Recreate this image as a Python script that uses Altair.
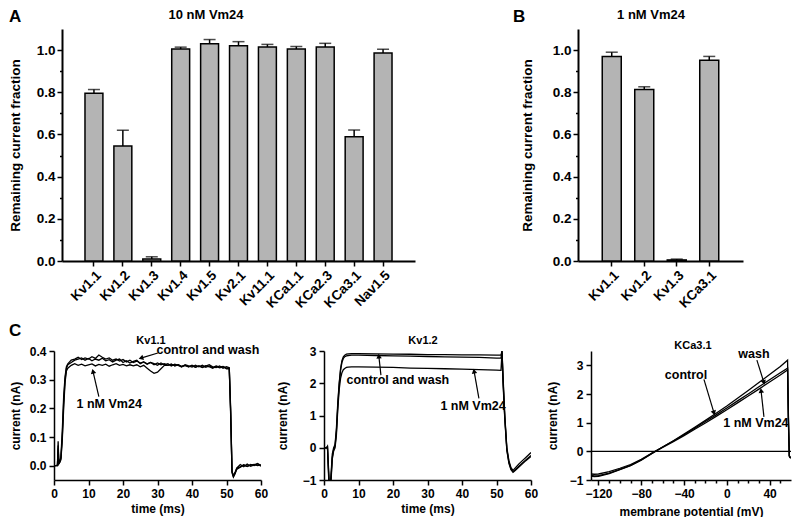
import altair as alt
import pandas as pd

FONT = "Liberation Sans"

# ---------------- Panel A : 10 nM Vm24 ----------------
a_channels = ["Kv1.1", "Kv1.2", "Kv1.3", "Kv1.4", "Kv1.5", "Kv2.1", "Kv11.1",
              "KCa1.1", "KCa2.3", "KCa3.1", "Nav1.5"]
a_mean = [0.795, 0.545, 0.010, 1.005, 1.030, 1.020, 1.015, 1.005, 1.015, 0.589, 0.986]
a_sem = [0.018, 0.075, 0.010, 0.009, 0.020, 0.020, 0.012, 0.012, 0.017, 0.032, 0.018]

# ---------------- Panel B : 1 nM Vm24 ----------------
b_channels = ["Kv1.1", "Kv1.2", "Kv1.3", "KCa3.1"]
b_mean = [0.970, 0.813, 0.005, 0.952]
b_sem = [0.020, 0.013, 0.004, 0.018]

frac_ticks = [0.0, 0.1, 0.2, 0.3, 0.4, 0.5, 0.6, 0.7, 0.8, 0.9, 1.0]

# ---------------- Panel C1 : Kv1.1 current traces ----------------
c1_time = [0, 0.5, 1.0, 1.2, 1.4, 1.6, 2.0, 2.4, 2.8, 3.2, 3.6, 4,
           5, 6, 7, 8, 9, 10, 11, 12, 13, 14, 15, 16, 17, 18, 19, 20, 21, 22, 23, 24, 25,
           26, 27, 28, 29, 30, 31, 32, 33, 34, 35, 36, 37, 38, 39, 40, 41, 42, 43, 44, 45,
           46, 47, 48, 49, 50,
           50.8, 51.2, 51.6, 52, 52.5, 53,
           54, 55, 56, 57, 58, 59, 60]
c1_control = [0, 0, 0.002, 0.085, 0.01, 0.012, 0.03, 0.12, 0.24, 0.31, 0.345, 0.355,
              0.368, 0.372, 0.378, 0.37, 0.376, 0.372, 0.38, 0.374, 0.386, 0.378, 0.372, 0.376,
              0.368, 0.372, 0.365, 0.37, 0.362, 0.368, 0.36, 0.365, 0.358, 0.362, 0.355, 0.36,
              0.352, 0.358, 0.352, 0.356, 0.35, 0.354, 0.348, 0.352, 0.346, 0.35, 0.345, 0.35,
              0.344, 0.348, 0.342, 0.347, 0.352, 0.345, 0.342, 0.348, 0.34, 0.345,
              0.342, 0.2, -0.02, -0.038, -0.025, -0.012,
              -0.005, 0.002, -0.003, 0.004, 0.0, 0.006, -0.002]
c1_wash = [0, 0, 0.0, 0.06, 0.008, 0.01, 0.025, 0.1, 0.22, 0.3, 0.34, 0.352,
           0.36, 0.368, 0.372, 0.376, 0.368, 0.374, 0.366, 0.372, 0.368, 0.375, 0.366, 0.37,
           0.362, 0.368, 0.372, 0.36, 0.366, 0.358, 0.364, 0.368, 0.356, 0.362, 0.354, 0.36,
           0.356, 0.35, 0.358, 0.352, 0.356, 0.348, 0.354, 0.35, 0.344, 0.352, 0.348, 0.344,
           0.35, 0.345, 0.35, 0.343, 0.348, 0.342, 0.348, 0.344, 0.346, 0.338,
           0.338, 0.19, -0.025, -0.04, -0.028, -0.01,
           -0.004, 0.003, -0.002, 0.002, 0.004, 0.0, 0.003]
c1_vm24 = [0, 0, 0.0, 0.07, 0.006, 0.01, 0.02, 0.09, 0.2, 0.29, 0.33, 0.34,
           0.35, 0.356, 0.35, 0.354, 0.348, 0.352, 0.355, 0.348, 0.353, 0.35, 0.354, 0.347,
           0.352, 0.356, 0.35, 0.353, 0.348, 0.352, 0.348, 0.352, 0.345, 0.35, 0.34, 0.33,
           0.322, 0.326, 0.338, 0.35, 0.35, 0.354, 0.348, 0.352, 0.346, 0.35, 0.345, 0.349,
           0.343, 0.348, 0.344, 0.349, 0.345, 0.34, 0.346, 0.341, 0.345, 0.34,
           0.34, 0.18, -0.02, -0.035, -0.022, -0.008,
           0.004, -0.004, 0.006, -0.002, 0.003, 0.008, 0.001]

# ---------------- Panel C2 : Kv1.2 current traces ----------------
c2_time = [0, 0.8, 1.0, 1.3, 1.6, 2.0, 2.4, 2.8,
           3.2, 3.6, 4.0, 4.4, 4.8, 5.2, 5.6, 6, 6.5, 7, 8, 10,
           15, 20, 25, 30, 35, 40, 45, 50,
           51.3, 51.6, 51.9, 52.4, 53, 53.6, 54.2, 54.8, 55.5, 56.5, 57.5, 58.5, 60]
c2_control = [0, 0, 0.05, -0.7, -1.4, -0.9, -0.2, 0.0,
              0.1, 0.6, 1.4, 2.0, 2.45, 2.7, 2.82, 2.87, 2.9, 2.91, 2.92, 2.92,
              2.91, 2.9, 2.9, 2.89, 2.89, 2.88, 2.88, 2.87,
              2.87, 3.0, 2.2, 1.0, 0.0, -0.4, -0.62, -0.7, -0.62, -0.5, -0.4, -0.3, -0.15]
c2_wash = [0, 0, 0.03, -0.6, -1.3, -1.0, -0.3, -0.05,
           0.05, 0.5, 1.3, 1.95, 2.4, 2.65, 2.77, 2.82, 2.85, 2.86, 2.87, 2.87,
           2.86, 2.85, 2.84, 2.83, 2.82, 2.81, 2.8, 2.78,
           2.78, 3.0, 2.1, 0.95, -0.05, -0.45, -0.66, -0.74, -0.68, -0.57, -0.47, -0.38, -0.24]
c2_vm24 = [0, 0, 0.04, -0.8, -1.5, -1.1, -0.35, -0.1,
           0.0, 0.4, 1.2, 1.8, 2.15, 2.33, 2.42, 2.46, 2.49, 2.5, 2.51, 2.51,
           2.5, 2.49, 2.47, 2.46, 2.45, 2.44, 2.42, 2.41,
           2.4, 2.95, 2.0, 0.9, -0.08, -0.48, -0.68, -0.76, -0.7, -0.6, -0.5, -0.4, -0.27]

# ---------------- Panel C3 : KCa3.1 ramp currents ----------------
c3_mv = [-127, -124, -120, -110, -100, -90, -80, -70, -60, -50, -40, -30, -20, -10,
         0, 10, 20, 30, 40, 50, 56.8, 57.6, 58.4, 59.2, 60]
c3_control = [-0.86, -0.88, -0.87, -0.78, -0.64, -0.5, -0.31, -0.07, 0.15, 0.37, 0.6, 0.84,
              1.08, 1.33, 1.58, 1.85, 2.12, 2.4, 2.68, 2.96, 3.18, 1.2, -0.15, -0.21, -0.22]
c3_wash = [-0.84, -0.86, -0.85, -0.76, -0.63, -0.49, -0.3, -0.07, 0.15, 0.36, 0.58, 0.81,
           1.04, 1.27, 1.51, 1.76, 2.0, 2.25, 2.5, 2.74, 2.9, 1.1, -0.16, -0.21, -0.22]
c3_vm24 = [-0.79, -0.8, -0.79, -0.71, -0.59, -0.46, -0.28, -0.06, 0.14, 0.34, 0.55, 0.77,
           0.99, 1.22, 1.45, 1.69, 1.93, 2.17, 2.42, 2.66, 2.84, 1.0, -0.17, -0.22, -0.23]

# ---------------- annotations (data coordinates) ----------------
c1_ann_text = ["control and wash", "1 nM Vm24"]
c1_ann_x = [44.6, 16.0]
c1_ann_y = [0.403, 0.216]
c1_arrow_x = [30.1, 13.0]
c1_arrow_y = [0.393, 0.241]
c1_tip_x = [25.2, 11.3]
c1_tip_y = [0.375, 0.329]
c1_tip_angle = [253.6, 346.5]

c2_ann_text = ["control and wash", "1 nM Vm24"]
c2_ann_x = [21.4, 43.2]
c2_ann_y = [2.09, 1.31]
c2_arrow_x = [16.5, 44.9]
c2_arrow_y = [2.25, 1.53]
c2_tip_x = [15.9, 43.5]
c2_tip_y = [2.84, 2.375]
c2_tip_angle = [354, 349.5]

c3_ann_text = ["control", "wash", "1 nM Vm24"]
c3_ann_x = [-38.2, 25.3, 27.2]
c3_ann_y = [2.65, 3.39, 0.98]
c3_arrow_x = [-21.4, 28.1, 34.7]
c3_arrow_y = [2.51, 3.18, 1.2]
c3_tip_x = [-12.0, 34.7, 32.0]
c3_tip_y = [1.34, 2.40, 2.12]
c3_tip_angle = [163, 162, 353.6]


# ======================================================================
def label_text(label, dx, dy, size, align="center", baseline="middle"):
    return alt.Chart(pd.DataFrame({"label": [label]})).mark_text(
        font=FONT, fontSize=size, fontWeight="bold", align=align,
        baseline=baseline, color="black"
    ).encode(text="label:N", x=alt.value(dx), y=alt.value(dy))


def spacer(w, h=20):
    return alt.Chart(pd.DataFrame({"v": [0]})).mark_point(opacity=0).encode(
        x=alt.value(0), y=alt.value(0)).properties(width=w, height=h)


def bar_panel(channels, means, sems, width, height, pin, pout, letter, letter_dx,
              title, title_dx, title_pad):
    df = pd.DataFrame({"channel": channels, "mean": means, "sem": sems})
    df["top"] = df["mean"] + df["sem"]
    yscale = alt.Scale(domain=[0, 1.1], nice=False)
    xenc = alt.X("channel:N", sort=channels,
                 scale=alt.Scale(paddingInner=pin, paddingOuter=pout),
                 axis=alt.Axis(title=None, labelAngle=-45, labelFontSize=13.5,
                               tickSize=5, labelPadding=2, domainWidth=2,
                               labelOverlap=False))
    yaxis = alt.Axis(
        title="Remaining current fraction", values=frac_ticks,
        labelExpr="round(datum.value*10) % 2 == 0 ? format(datum.value, '.1f') : ''",
        tickSize={"condition": {"test": "round(datum.value*10) % 2 == 0", "value": 5},
                  "value": 2.5},
        labelFontSize=13.5, titleFontSize=13.5, labelPadding=2, titlePadding=title_pad,
        domainWidth=2, labelOverlap=False)
    base = alt.Chart(df)
    bars = base.mark_bar(color="#b4b4b4", stroke="black", strokeWidth=1.5).encode(
        x=xenc, y=alt.Y("mean:Q", scale=yscale, axis=yaxis))
    err = base.mark_rule(color="black", strokeWidth=1.5).encode(
        x=xenc, y=alt.Y("mean:Q", scale=yscale, axis=yaxis), y2="top:Q")
    cap = base.mark_tick(color="black", thickness=1.5, size=12, orient="horizontal").encode(
        x=xenc, y=alt.Y("top:Q", scale=yscale, axis=yaxis))
    return alt.layer(
        bars, err, cap,
        label_text(letter, letter_dx, -20, 17, "left", "top"),
        label_text(title, title_dx, -14, 13),
    ).properties(width=width, height=height)


def trace_panel(xs, traces, xscale, yscale, xaxis, yaxis, ann, title, title_dx, title_dy,
                width, height, letter=None, zero_line=False):
    rows = []
    for name, ys in traces.items():
        for x, y in zip(xs, ys):
            rows.append({"x": x, "y": y, "trace": name})
    df = pd.DataFrame(rows)
    xe = alt.X("x:Q", scale=xscale, axis=xaxis)
    ye = alt.Y("y:Q", scale=yscale, axis=yaxis)
    layers = []
    if zero_line:
        layers.append(alt.Chart(pd.DataFrame({"y": [0]})).mark_rule(
            color="black", strokeWidth=1.3).encode(y=ye))
    layers.append(alt.Chart(df).mark_line(color="black", strokeWidth=1.3, clip=True).encode(
        x=xe, y=ye, detail="trace:N"))
    text, tx, ty, ax, ay, px, py, ang = ann
    adf = pd.DataFrame({"label": text, "x": tx, "y": ty})
    layers.append(alt.Chart(adf).mark_text(font=FONT, fontSize=12.5, fontWeight="bold",
                                           color="black").encode(x=xe, y=ye, text="label:N"))
    rdf = pd.DataFrame({"x": ax, "y": ay, "xt": px, "yt": py, "ang": ang})
    layers.append(alt.Chart(rdf).mark_rule(color="black", strokeWidth=1.2).encode(
        x=xe, y=ye, x2="xt:Q", y2="yt:Q"))
    layers.append(alt.Chart(rdf).mark_point(shape="triangle-up", filled=True, size=30,
                                            color="black", opacity=1).encode(
        x=alt.X("xt:Q", scale=xscale, axis=xaxis), y=alt.Y("yt:Q", scale=yscale, axis=yaxis),
        angle=alt.Angle("ang:Q", scale=None)))
    layers.append(label_text(title, title_dx, title_dy, 11))
    if letter:
        layers.append(label_text(letter, -45, -28, 17, "left", "top"))
    return alt.layer(*layers).properties(width=width, height=height)


def c_axis(title, values, tp, fmt=None, label_expr=None, tick_size=5):
    kw = dict(title=title, values=values, tickSize=tick_size, labelFontSize=12,
              titleFontSize=12, labelPadding=3, titlePadding=tp, labelOverlap=False)
    if fmt:
        kw["format"] = fmt
    if label_expr:
        kw["labelExpr"] = label_expr
    return alt.Axis(**kw)


panel_a = bar_panel(a_channels, a_mean, a_sem, 353, 232, 0.38, 0.795, "A", -53,
                    "10 nM Vm24", 144, 14)
panel_b = bar_panel(b_channels, b_mean, b_sem, 165, 232, 0.415, 0.746, "B", -65,
                    "1 nM Vm24", 73, 18)

time_ticks = [0, 10, 20, 30, 40, 50, 60]
C_H = 129

panel_c1 = trace_panel(
    c1_time, {"control": c1_control, "wash": c1_wash, "vm24": c1_vm24},
    alt.Scale(domain=[0, 60], nice=False), alt.Scale(domain=[-0.05, 0.4], nice=False),
    c_axis("time (ms)", time_ticks, 4),
    c_axis("current (nA)", [0, 0.1, 0.2, 0.3, 0.4], 7, fmt=".1f"),
    (c1_ann_text, c1_ann_x, c1_ann_y, c1_arrow_x, c1_arrow_y, c1_tip_x, c1_tip_y, c1_tip_angle),
    "Kv1.1", 97, -10, 207, C_H, letter="C")

panel_c2 = trace_panel(
    c2_time, {"control": c2_control, "wash": c2_wash, "vm24": c2_vm24},
    alt.Scale(domain=[0, 60], nice=False), alt.Scale(domain=[-1, 3], nice=False),
    c_axis("time (ms)", time_ticks, 4),
    c_axis("current (nA)", [-1, 0, 1, 2, 3], 13, fmt="d"),
    (c2_ann_text, c2_ann_x, c2_ann_y, c2_arrow_x, c2_arrow_y, c2_tip_x, c2_tip_y, c2_tip_angle),
    "Kv1.2", 99, -10, 207, C_H)

mv_ticks = [-120, -110, -100, -90, -80, -70, -60, -50, -40, -30, -20, -10, 0, 10, 20, 30, 40, 50]
panel_c3 = trace_panel(
    c3_mv, {"control": c3_control, "wash": c3_wash, "vm24": c3_vm24},
    alt.Scale(domain=[-127, 60], nice=False), alt.Scale(domain=[-1, 3.5], nice=False),
    c_axis("membrane potential (mV)", mv_ticks, 7,
           label_expr="(datum.value + 120) % 40 == 0 ? format(datum.value, 'd') : ''",
           tick_size={"condition": {"test": "(datum.value + 120) % 40 == 0", "value": 5},
                      "value": 3}),
    c_axis("current (nA)", [-1, 0, 1, 2, 3], 10, fmt="d"),
    (c3_ann_text, c3_ann_x, c3_ann_y, c3_arrow_x, c3_arrow_y, c3_tip_x, c3_tip_y, c3_tip_angle),
    "KCa3.1", 102, -5, 200, C_H, zero_line=True)

row1 = alt.hconcat(spacer(8), panel_a, spacer(163), panel_b, spacing=0, bounds="flush")
row2 = alt.hconcat(panel_c1, spacer(63), panel_c2, spacer(60), panel_c3,
                   spacing=0, bounds="flush")

chart = alt.vconcat(row1, row2, spacing=12).properties(
    padding={"left": 0, "top": 0, "right": 0, "bottom": 0}
).configure(font=FONT).configure_view(stroke=None).configure_axis(
    domainColor="black", domainWidth=1.5, tickColor="black", tickWidth=1.5,
    labelColor="black", titleColor="black", labelFont=FONT, titleFont=FONT,
    labelFontWeight="bold", titleFontWeight="bold", grid=False,
    labelFlush=False, labelOverlap=False,
)

chart.save("out.html", embed_options={"renderer": "svg", "actions": False})
